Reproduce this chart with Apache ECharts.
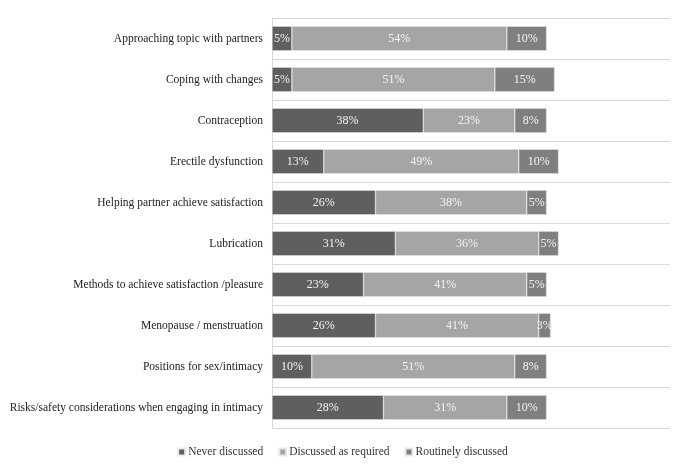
<!DOCTYPE html>
<html>
<head>
<meta charset="utf-8">
<script src="https://cdn.jsdelivr.net/npm/echarts@6/dist/echarts.min.js"></script>
<style>
  html, body { margin: 0; padding: 0; background: #fff; }
  #chart { width: 685px; height: 474px; }
</style>
</head>
<body>
<div id="chart"></div>
<script>
// Topics, top to bottom
const topics = [
  'Approaching topic with partners',
  'Coping with changes',
  'Contraception',
  'Erectile dysfunction',
  'Helping partner achieve satisfaction',
  'Lubrication',
  'Methods to achieve satisfaction /pleasure',
  'Menopause / menstruation',
  'Positions for sex/intimacy',
  'Risks/safety considerations when engaging in intimacy'
];

// Percentages per response
const neverDiscussed = [5, 5, 38, 13, 26, 31, 23, 26, 10, 28];
const asRequired = [54, 51, 23, 49, 38, 36, 41, 41, 51, 31];
const routinely = [10, 15, 8, 10, 5, 5, 5, 3, 8, 10];

const seriesNames = ['Never discussed', 'Discussed as required', 'Routinely discussed'];
const seriesColors = ['#5f5f5f', '#a5a5a5', '#7f7f7f'];
const seriesData = [neverDiscussed, asRequired, routinely];

const font = '"Liberation Serif", "Times New Roman", serif';

const chart = echarts.init(document.getElementById('chart'));

chart.setOption({
  animation: false,
  textStyle: { fontFamily: font },
  grid: { left: 272, right: 15, top: 18, bottom: 46, outerBoundsMode: 'none', containLabel: false },
  legend: {
    bottom: 11,
    left: 'center',
    itemWidth: 7,
    itemHeight: 7,
    itemGap: 15,
    icon: 'rect',
    textStyle: { fontFamily: font, fontSize: 11.5, color: '#333', padding: [0, 0, 0, -2] },
    data: seriesNames
  },
  xAxis: {
    type: 'value',
    min: 0,
    max: 100,
    show: false
  },
  yAxis: {
    type: 'category',
    inverse: true,
    data: topics,
    axisLine: { show: true, lineStyle: { color: '#d9d9d9' } },
    axisTick: { show: false },
    splitLine: { show: true, lineStyle: { color: '#d9d9d9' } },
    axisLabel: { fontFamily: font, fontSize: 11.5, color: '#222', margin: 9 }
  },
  series: seriesNames.map((name, i) => ({
    name,
    type: 'bar',
    stack: 'total',
    barWidth: '60%',
    data: seriesData[i],
    itemStyle: { color: seriesColors[i], borderColor: '#e8e8e8', borderWidth: 0.5 },
    label: {
      show: true,
      position: 'inside',
      formatter: (p) => p.value + '%',
      color: '#f4f4f4',
      fontFamily: font,
      fontSize: 12
    }
  }))
});
</script>
</body>
</html>
